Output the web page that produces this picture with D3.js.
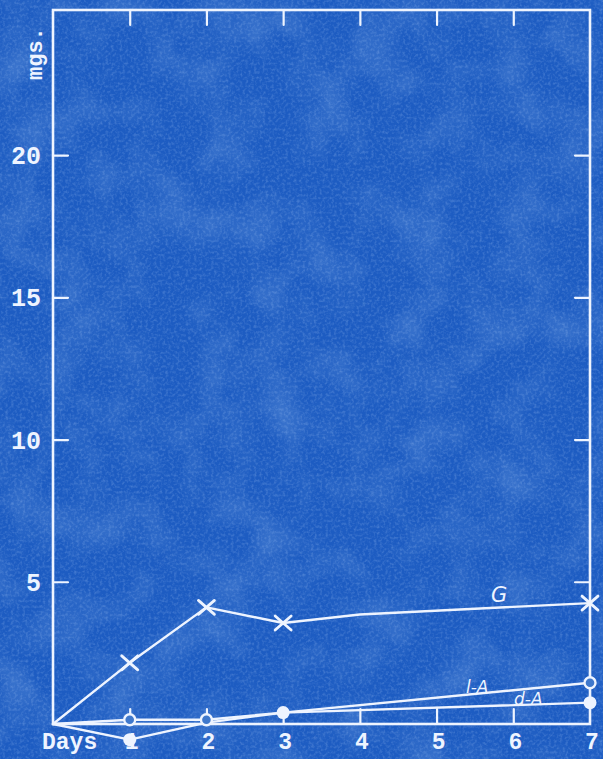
<!DOCTYPE html>
<html>
<head>
<meta charset="utf-8">
<script src="https://cdn.jsdelivr.net/npm/d3@7"></script>
<style>
  html, body { margin: 0; padding: 0; background: #1f5fc0; }
  svg { display: block; }
</style>
</head>
<body>
<svg id="chart" width="603" height="759"></svg>
<script>
// Blood levels (mgs.) over a week for three preparations
const days = [0, 1, 2, 3, 4, 5, 6, 7];
const yTicks = [5, 10, 15, 20];

const gDays = [0, 1, 2, 3, 4, 7];
const gValues = [0, 2.15, 4.1, 3.55, 3.85, 4.25];
const gMarked = [1, 2, 3, 7];

const lDays = [0, 1, 2, 3, 7];
const lValues = [0, 0.15, 0.15, 0.4, 1.45];
const lMarked = [1, 2, 7];

const dDays = [0, 1, 2, 3, 7];
const dValues = [0, -0.55, 0.05, 0.4, 0.75];
const dMarked = [1, 3, 7];

const ink = "#eef4ff";
const svg = d3.select("#chart");

// paper texture: fine speckle plus broad mottling
const defs = svg.append("defs");
const f = defs.append("filter").attr("id", "paper").attr("x", 0).attr("y", 0)
  .attr("width", "100%").attr("height", "100%");
f.append("feTurbulence").attr("type", "fractalNoise").attr("baseFrequency", 0.35)
  .attr("numOctaves", 2).attr("seed", 7).attr("result", "n");
f.append("feColorMatrix").attr("in", "n").attr("type", "matrix")
  .attr("values", "0 0 0 0 0.55  0 0 0 0 0.72  0 0 0 0 1  0 0 0 1.4 -0.6");
const g2 = defs.append("filter").attr("id", "blotch").attr("x", 0).attr("y", 0)
  .attr("width", "100%").attr("height", "100%");
g2.append("feTurbulence").attr("type", "fractalNoise").attr("baseFrequency", 0.02)
  .attr("numOctaves", 3).attr("seed", 3).attr("result", "n");
g2.append("feColorMatrix").attr("in", "n").attr("type", "matrix")
  .attr("values", "0 0 0 0 0.3  0 0 0 0 0.5  0 0 0 0 0.85  0 0 0 1.2 -0.5");

svg.append("rect").attr("width", 603).attr("height", 759).attr("fill", "#1d5cc2");
svg.append("rect").attr("width", 603).attr("height", 759).attr("filter", "url(#blotch)").attr("opacity", 0.45);
svg.append("rect").attr("width", 603).attr("height", 759).attr("filter", "url(#paper)").attr("opacity", 0.35);

const x = d3.scaleLinear().domain([0, 7]).range([53, 590]);
const y = d3.scaleLinear().domain([0, 25.1]).range([724, 10]);

const plot = svg.append("g").attr("stroke-linecap", "round");

// frame
plot.append("rect")
  .attr("x", x(0)).attr("y", y(25.1))
  .attr("width", x(7) - x(0)).attr("height", y(0) - y(25.1))
  .attr("fill", "none").attr("stroke", ink).attr("stroke-width", 2.6);

// inward ticks on all four sides
const tickLen = 15;
const axL = d3.axisRight(y).tickValues(yTicks).tickSize(tickLen).tickFormat("");
const axR = d3.axisLeft(y).tickValues(yTicks).tickSize(tickLen).tickFormat("");
const axB = d3.axisTop(x).tickValues(days.slice(1, 7)).tickSize(tickLen).tickFormat("");
const axT = d3.axisBottom(x).tickValues(days.slice(1, 7)).tickSize(tickLen).tickFormat("");
[[axL, `translate(${x(0)},0)`], [axR, `translate(${x(7)},0)`],
 [axB, `translate(0,${y(0)})`], [axT, `translate(0,${y(25.1)})`]].forEach(([ax, tr]) => {
  const g = plot.append("g").attr("transform", tr).call(ax);
  g.select(".domain").remove();
  g.selectAll("line").attr("stroke", ink).attr("stroke-width", 2.2);
});

const font = "'Liberation Mono', 'DejaVu Sans Mono', monospace";

// y tick labels
svg.append("g").selectAll("text").data(yTicks).join("text")
  .attr("x", 41).attr("y", d => y(d) + 9)
  .attr("text-anchor", "end")
  .attr("font-family", font).attr("font-size", 25).attr("font-weight", "bold")
  .attr("fill", ink).text(d => d);

// unit label
svg.append("text")
  .attr("transform", "translate(42,80) rotate(-90)")
  .attr("font-family", font).attr("font-size", 22).attr("font-weight", "bold")
  .attr("fill", ink).text("mgs.");

// x tick labels
svg.append("g").selectAll("text").data(days.slice(1)).join("text")
  .attr("x", d => x(d) + 2).attr("y", 749)
  .attr("text-anchor", "middle")
  .attr("font-family", font).attr("font-size", 23).attr("font-weight", "bold")
  .attr("fill", ink).text(d => d);
svg.append("text")
  .attr("x", 42).attr("y", 749)
  .attr("font-family", font).attr("font-size", 23).attr("font-weight", "bold")
  .attr("fill", ink).text("Days");

// series lines
const line = d3.line().x(d => x(d[0])).y(d => y(d[1]));
function drawSeries(ds, vs) {
  plot.append("path").datum(d3.zip(ds, vs)).attr("d", line)
    .attr("fill", "none").attr("stroke", ink).attr("stroke-width", 2.4)
    .attr("stroke-linejoin", "round");
}
drawSeries(gDays, gValues);
drawSeries(lDays, lValues);
drawSeries(dDays, dValues);

const valAt = (ds, vs, d) => vs[ds.indexOf(d)];

// G: crosses
plot.append("g").selectAll("path").data(gMarked).join("path")
  .attr("transform", d => `translate(${x(d)},${y(valAt(gDays, gValues, d))})`)
  .attr("d", "M-8,-7L8,7M-8,7L8,-7")
  .attr("stroke", ink).attr("stroke-width", 2.8).attr("fill", "none");

// l-A: open circles
plot.append("g").selectAll("circle").data(lMarked).join("circle")
  .attr("cx", d => x(d)).attr("cy", d => y(valAt(lDays, lValues, d)))
  .attr("r", 5.5).attr("fill", "#3f78cc").attr("stroke", ink).attr("stroke-width", 2.4);

// d-A: filled dots
plot.append("g").selectAll("circle").data(dMarked).join("circle")
  .attr("cx", d => x(d)).attr("cy", d => y(valAt(dDays, dValues, d)))
  .attr("r", 6.5).attr("fill", ink);

// series names
const hand = "'DejaVu Sans', sans-serif";
svg.append("text").attr("x", 491).attr("y", 602)
  .attr("font-family", hand).attr("font-size", 21).attr("font-style", "italic")
  .attr("fill", ink).text("G");
svg.append("text").attr("x", 466).attr("y", 693)
  .attr("font-family", hand).attr("font-size", 17).attr("font-style", "italic")
  .attr("fill", ink).text("l-A");
svg.append("text").attr("x", 514).attr("y", 705)
  .attr("font-family", hand).attr("font-size", 17).attr("font-style", "italic")
  .attr("fill", ink).text("d-A");
</script>
</body>
</html>
